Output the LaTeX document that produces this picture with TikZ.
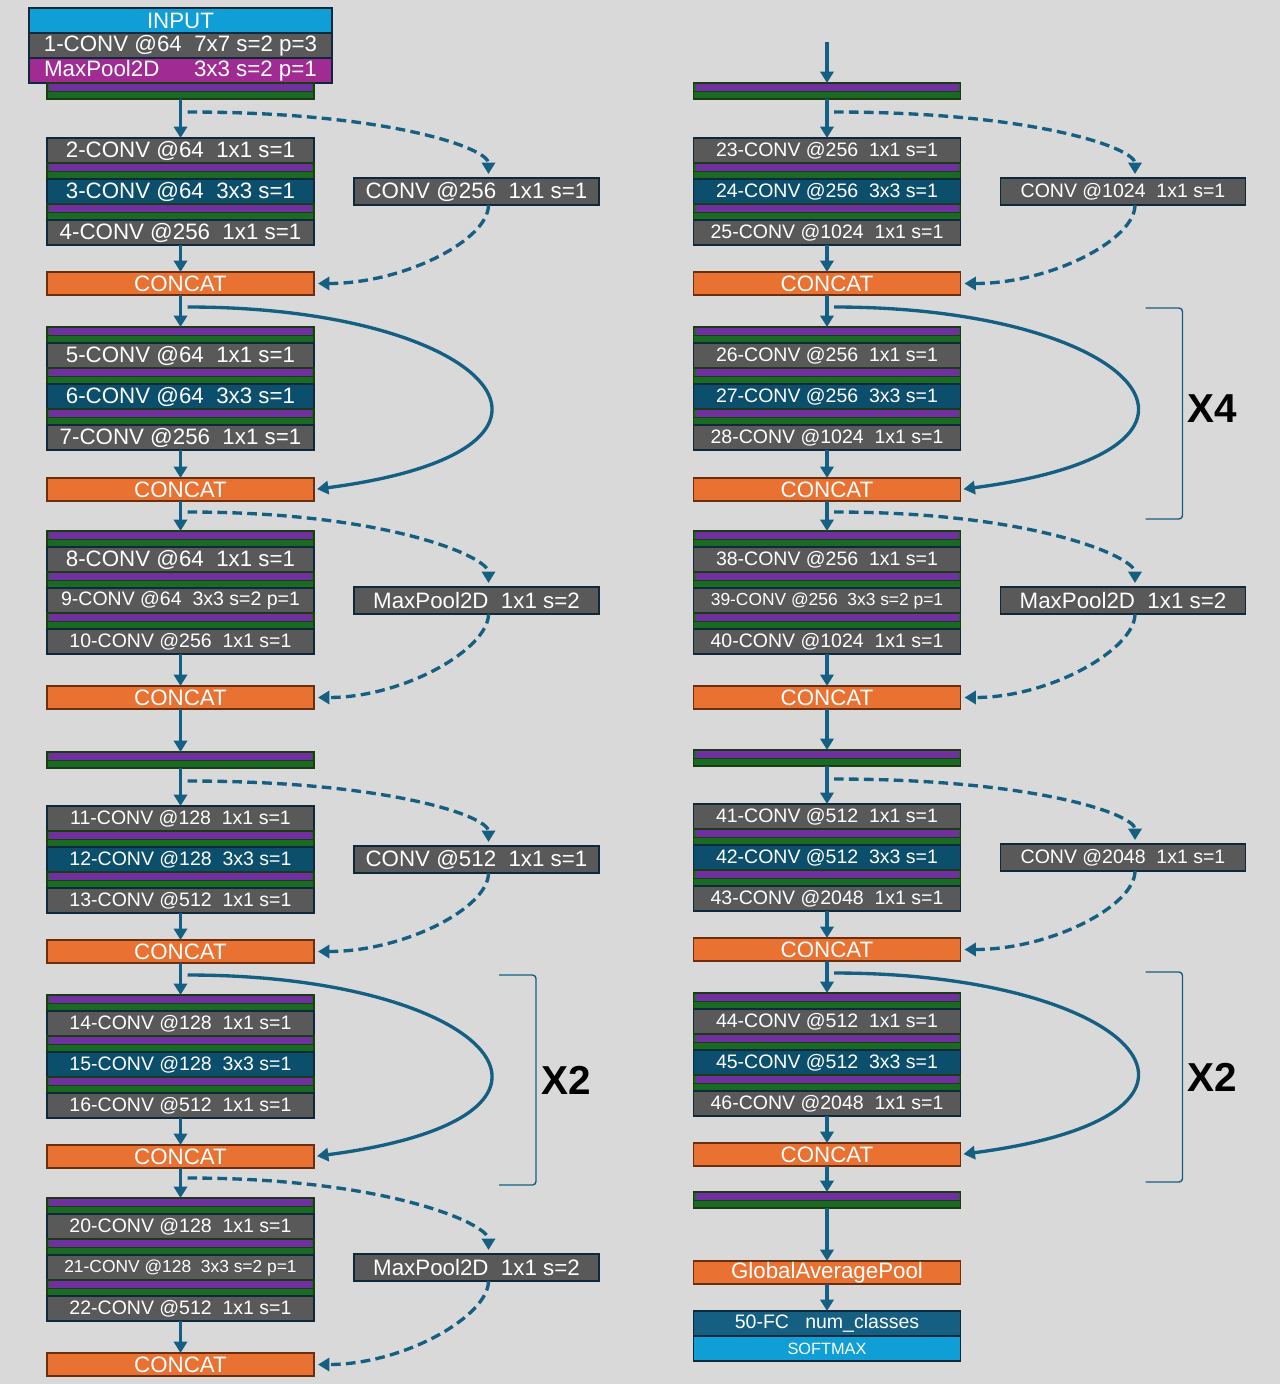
\documentclass[tikz,border=0pt]{standalone}
\usepackage{fontspec}
\setmainfont{Liberation Sans}
\usepackage{xcolor}
\usepackage{tikz}
\usetikzlibrary{positioning,arrows.meta}

\definecolor{bggray}{HTML}{D9D9D9}
\definecolor{convgray}{HTML}{595959}
\definecolor{convteal}{HTML}{0B4F6C}
\definecolor{rowline}{HTML}{10293A}
\definecolor{bnpurple}{HTML}{7030A0}
\definecolor{actgreen}{HTML}{196B24}
\definecolor{stripeline}{HTML}{1C3A14}
\definecolor{poolmag}{HTML}{A02B93}
\definecolor{inputblue}{HTML}{0F9ED5}
\definecolor{catorange}{HTML}{E97132}
\definecolor{catline}{HTML}{6B2E0E}
\definecolor{flowblue}{HTML}{156082}

\newcommand\fA{\fontsize{12.7}{15}\selectfont}
\newcommand\fB{\fontsize{11.1}{13}\selectfont}
\newcommand\fC{\fontsize{9.9}{12}\selectfont}
\newcommand\fD{\fontsize{9.3}{11}\selectfont}
\newcommand\fX{\fontsize{23}{26}\selectfont\bfseries}

\tikzstyle{convrow}=[rectangle, draw=rowline, fill=convgray, text=white, line width=0.9pt,
        minimum width=5.34cm, minimum height=0.5cm, inner sep=0pt, outer sep=0pt, font=\fB]
\tikzstyle{convmid}=[convrow, fill=convteal]
\tikzstyle{inrow}=[convrow, minimum width=6.06cm, font=\fA]
\tikzstyle{bnact}=[rectangle, draw=stripeline, fill=actgreen, line width=0.7pt,
        minimum width=5.34cm, minimum height=0.32cm, inner sep=0pt, outer sep=0pt,
        path picture={\fill[bnpurple] ([xshift=0.04cm,yshift=-0.025cm]path picture bounding box.north west) rectangle ([xshift=-0.04cm,yshift=0.005cm]path picture bounding box.east);
          \draw[stripeline, line width=0.6pt] ([yshift=-0.005cm]path picture bounding box.west) -- ([yshift=-0.005cm]path picture bounding box.east);}]
\tikzstyle{catbox}=[convrow, fill=catorange, draw=catline, minimum height=0.46cm, font=\fA]
\tikzstyle{sidebox}=[convrow, minimum width=4.9cm, minimum height=0.54cm]
\tikzstyle{flowarrow}=[draw=flowblue, line width=1.9pt, -{Triangle[width=7.5pt,length=6.5pt]}]
\tikzstyle{skiparrow}=[flowarrow, dash pattern=on 5.5pt off 3pt, shorten >=0.08cm]
\tikzstyle{resarrow}=[flowarrow, shorten >=0.06cm]
\tikzstyle{repbracket}=[draw=flowblue, line width=0.8pt, rounded corners=2pt]
\tikzstyle{replabel}=[font=\fX, text=black, inner sep=0pt]

\begin{document}
\begin{tikzpicture}[node distance=0cm]
        \fill[bggray] (0,0) rectangle (25.6,-27.68);
        \useasboundingbox (0,0) rectangle (25.6,-27.68);

        % left column
        \node (in) [inrow, fill=inputblue] at (3.61,-0.41) {INPUT};
        \node (c1) [inrow, below=of in] {1-CONV @64~ 7x7 s=2 p=3};
        \node (pool1) [inrow, fill=poolmag, below=of c1] {MaxPool2D\hspace{1.55em}3x3 s=2 p=1};
        \node (s1) [bnact, below=of pool1] {};

        \node (c2) [convrow, font=\fA, below=0.78cm of s1] {2-CONV @64~ 1x1 s=1};
        \node (b3) [bnact, below=of c2] {};
        \node (c3) [convmid, font=\fA, below=of b3] {3-CONV @64~ 3x3 s=1};
        \node (b4) [bnact, below=of c3] {};
        \node (c4) [convrow, font=\fA, below=of b4] {4-CONV @256~ 1x1 s=1};
        \node (p1) [sidebox, font=\fA, right=0.8cm of c3] {CONV @256~ 1x1 s=1};
        \node (cat1) [catbox, below=0.54cm of c4] {CONCAT};

        \node (b5) [bnact, below=0.64cm of cat1] {};
        \node (c5) [convrow, font=\fA, below=of b5] {5-CONV @64~ 1x1 s=1};
        \node (b6) [bnact, below=of c5] {};
        \node (c6) [convmid, font=\fA, below=of b6] {6-CONV @64~ 3x3 s=1};
        \node (b7) [bnact, below=of c6] {};
        \node (c7) [convrow, font=\fA, below=of b7] {7-CONV @256~ 1x1 s=1};
        \node (cat2) [catbox, below=0.56cm of c7] {CONCAT};

        \node (b8) [bnact, below=0.6cm of cat2] {};
        \node (c8) [convrow, font=\fA, below=of b8] {8-CONV @64~ 1x1 s=1};
        \node (b9) [bnact, below=of c8] {};
        \node (c9) [convrow, below=of b9] {9-CONV @64~ 3x3 s=2 p=1};
        \node (b10) [bnact, below=of c9] {};
        \node (c10) [convrow, below=of b10] {10-CONV @256~ 1x1 s=1};
        \node (p2) [sidebox, font=\fA, right=0.8cm of c9] {MaxPool2D~ 1x1 s=2};
        \node (cat3) [catbox, below=0.64cm of c10] {CONCAT};
        \node (s2) [bnact, below=0.86cm of cat3] {};

        \node (c11) [convrow, below=0.76cm of s2] {11-CONV @128~ 1x1 s=1};
        \node (b12) [bnact, below=of c11] {};
        \node (c12) [convmid, below=of b12] {12-CONV @128~ 3x3 s=1};
        \node (b13) [bnact, below=of c12] {};
        \node (c13) [convrow, below=of b13] {13-CONV @512~ 1x1 s=1};
        \node (p3) [sidebox, font=\fA, right=0.8cm of c12] {CONV @512~ 1x1 s=1};
        \node (cat4) [catbox, below=0.54cm of c13] {CONCAT};

        \node (b14) [bnact, below=0.64cm of cat4] {};
        \node (c14) [convrow, below=of b14] {14-CONV @128~ 1x1 s=1};
        \node (b15) [bnact, below=of c14] {};
        \node (c15) [convmid, below=of b15] {15-CONV @128~ 3x3 s=1};
        \node (b16) [bnact, below=of c15] {};
        \node (c16) [convrow, below=of b16] {16-CONV @512~ 1x1 s=1};
        \node (cat5) [catbox, below=0.54cm of c16] {CONCAT};

        \node (b20) [bnact, below=0.6cm of cat5] {};
        \node (c20) [convrow, below=of b20] {20-CONV @128~ 1x1 s=1};
        \node (b21) [bnact, below=of c20] {};
        \node (c21) [convrow, font=\fC, below=of b21] {21-CONV @128~ 3x3 s=2 p=1};
        \node (b22) [bnact, below=of c21] {};
        \node (c22) [convrow, below=of b22] {22-CONV @512~ 1x1 s=1};
        \node (p4) [sidebox, font=\fA, right=0.8cm of c21] {MaxPool2D~ 1x1 s=2};
        \node (cat6) [catbox, below=0.64cm of c22] {CONCAT};

        % right column
        \coordinate (rtop) at (16.54,-0.84);
        \node (s3) [bnact] at (16.54,-1.82) {};

        \node (c23) [convrow, below=0.78cm of s3] {23-CONV @256~ 1x1 s=1};
        \node (b24) [bnact, below=of c23] {};
        \node (c24) [convmid, below=of b24] {24-CONV @256~ 3x3 s=1};
        \node (b25) [bnact, below=of c24] {};
        \node (c25) [convrow, below=of b25] {25-CONV @1024~ 1x1 s=1};
        \node (p5) [sidebox, right=0.8cm of c24] {CONV @1024~ 1x1 s=1};
        \node (cat7) [catbox, below=0.54cm of c25] {CONCAT};

        \node (b26) [bnact, below=0.64cm of cat7] {};
        \node (c26) [convrow, below=of b26] {26-CONV @256~ 1x1 s=1};
        \node (b27) [bnact, below=of c26] {};
        \node (c27) [convmid, below=of b27] {27-CONV @256~ 3x3 s=1};
        \node (b28) [bnact, below=of c27] {};
        \node (c28) [convrow, below=of b28] {28-CONV @1024~ 1x1 s=1};
        \node (cat8) [catbox, below=0.56cm of c28] {CONCAT};

        \node (b38) [bnact, below=0.6cm of cat8] {};
        \node (c38) [convrow, below=of b38] {38-CONV @256~ 1x1 s=1};
        \node (b39) [bnact, below=of c38] {};
        \node (c39) [convrow, font=\fC, below=of b39] {39-CONV @256~ 3x3 s=2 p=1};
        \node (b40) [bnact, below=of c39] {};
        \node (c40) [convrow, below=of b40] {40-CONV @1024~ 1x1 s=1};
        \node (p6) [sidebox, font=\fA, right=0.8cm of c39] {MaxPool2D~ 1x1 s=2};
        \node (cat9) [catbox, below=0.64cm of c40] {CONCAT};
        \node (s4) [bnact, below=0.82cm of cat9] {};

        \node (c41) [convrow, below=0.76cm of s4] {41-CONV @512~ 1x1 s=1};
        \node (b42) [bnact, below=of c41] {};
        \node (c42) [convmid, below=of b42] {42-CONV @512~ 3x3 s=1};
        \node (b43) [bnact, below=of c42] {};
        \node (c43) [convrow, below=of b43] {43-CONV @2048~ 1x1 s=1};
        \node (p7) [sidebox, right=0.8cm of c42] {CONV @2048~ 1x1 s=1};
        \node (cat10) [catbox, below=0.54cm of c43] {CONCAT};

        \node (b44) [bnact, below=0.64cm of cat10] {};
        \node (c44) [convrow, below=of b44] {44-CONV @512~ 1x1 s=1};
        \node (b45) [bnact, below=of c44] {};
        \node (c45) [convmid, below=of b45] {45-CONV @512~ 3x3 s=1};
        \node (b46) [bnact, below=of c45] {};
        \node (c46) [convrow, below=of b46] {46-CONV @2048~ 1x1 s=1};
        \node (cat11) [catbox, below=0.54cm of c46] {CONCAT};
        \node (s5) [bnact, below=0.52cm of cat11] {};

        \node (gap) [catbox, below=1.06cm of s5] {GlobalAveragePool};
        \node (fc) [convrow, fill=flowblue, below=0.54cm of gap] {50-FC~~ num\_classes};
        \node (sm) [convrow, fill=inputblue, font=\fD, below=of fc] {SOFTMAX};

        % main flow
        \draw[flowarrow] (s1) -- (c2);
        \draw[flowarrow] (c4) -- (cat1);
        \draw[flowarrow] (cat1) -- (b5);
        \draw[flowarrow] (c7) -- (cat2);
        \draw[flowarrow] (cat2) -- (b8);
        \draw[flowarrow] (c10) -- (cat3);
        \draw[flowarrow] (cat3) -- (s2);
        \draw[flowarrow] (s2) -- (c11);
        \draw[flowarrow] (c13) -- (cat4);
        \draw[flowarrow] (cat4) -- (b14);
        \draw[flowarrow] (c16) -- (cat5);
        \draw[flowarrow] (cat5) -- (b20);
        \draw[flowarrow] (c22) -- (cat6);
        \draw[flowarrow] (rtop) -- (s3);
        \draw[flowarrow] (s3) -- (c23);
        \draw[flowarrow] (c25) -- (cat7);
        \draw[flowarrow] (cat7) -- (b26);
        \draw[flowarrow] (c28) -- (cat8);
        \draw[flowarrow] (cat8) -- (b38);
        \draw[flowarrow] (c40) -- (cat9);
        \draw[flowarrow] (cat9) -- (s4);
        \draw[flowarrow] (s4) -- (c41);
        \draw[flowarrow] (c43) -- (cat10);
        \draw[flowarrow] (cat10) -- (b44);
        \draw[flowarrow] (c46) -- (cat11);
        \draw[flowarrow] (cat11) -- (s5);
        \draw[flowarrow] (s5) -- (gap);
        \draw[flowarrow] (gap) -- (fc);

        % shortcut branches
        \coordinate (t1) at ([xshift=0.14cm,yshift=-0.26cm]s1.south);
        \draw[skiparrow] (t1) .. controls +(4cm,0) and +(0,0.6cm) .. ([xshift=0.24cm]p1.north);
        \draw[skiparrow] ([xshift=0.24cm]p1.south) .. controls +(0,-0.7cm) and +(1.8cm,0) .. (cat1.east);
        \coordinate (t2) at ([xshift=0.14cm,yshift=-0.22cm]cat2.south);
        \draw[skiparrow] (t2) .. controls +(4cm,0) and +(0,0.6cm) .. ([xshift=0.24cm]p2.north);
        \draw[skiparrow] ([xshift=0.24cm]p2.south) .. controls +(0,-0.7cm) and +(1.8cm,0) .. (cat3.east);
        \coordinate (t3) at ([xshift=0.14cm,yshift=-0.26cm]s2.south);
        \draw[skiparrow] (t3) .. controls +(4cm,0) and +(0,0.6cm) .. ([xshift=0.24cm]p3.north);
        \draw[skiparrow] ([xshift=0.24cm]p3.south) .. controls +(0,-0.7cm) and +(1.8cm,0) .. (cat4.east);
        \coordinate (t4) at ([xshift=0.14cm,yshift=-0.2cm]cat5.south);
        \draw[skiparrow] (t4) .. controls +(4cm,0) and +(0,0.6cm) .. ([xshift=0.24cm]p4.north);
        \draw[skiparrow] ([xshift=0.24cm]p4.south) .. controls +(0,-0.7cm) and +(1.8cm,0) .. (cat6.east);
        \coordinate (t5) at ([xshift=0.14cm,yshift=-0.26cm]s3.south);
        \draw[skiparrow] (t5) .. controls +(4cm,0) and +(0,0.6cm) .. ([xshift=0.24cm]p5.north);
        \draw[skiparrow] ([xshift=0.24cm]p5.south) .. controls +(0,-0.7cm) and +(1.8cm,0) .. (cat7.east);
        \coordinate (t6) at ([xshift=0.14cm,yshift=-0.22cm]cat8.south);
        \draw[skiparrow] (t6) .. controls +(4cm,0) and +(0,0.6cm) .. ([xshift=0.24cm]p6.north);
        \draw[skiparrow] ([xshift=0.24cm]p6.south) .. controls +(0,-0.7cm) and +(1.8cm,0) .. (cat9.east);
        \coordinate (t7) at ([xshift=0.14cm,yshift=-0.26cm]s4.south);
        \draw[skiparrow] (t7) .. controls +(4cm,0) and +(0,0.6cm) .. ([xshift=0.24cm]p7.north);
        \draw[skiparrow] ([xshift=0.24cm]p7.south) .. controls +(0,-0.7cm) and +(1.8cm,0) .. (cat10.east);

        % identity branches
        \coordinate (u1) at ([xshift=0.14cm,yshift=-0.24cm]cat1.south);
        \draw[resarrow] (u1) .. controls +(6.1cm,0) and +(6.1cm,0.8cm) .. (cat2.east);
        \coordinate (u2) at ([xshift=0.14cm,yshift=-0.24cm]cat4.south);
        \draw[resarrow] (u2) .. controls +(6.1cm,0) and +(6.1cm,0.8cm) .. (cat5.east);
        \coordinate (u3) at ([xshift=0.14cm,yshift=-0.24cm]cat7.south);
        \draw[resarrow] (u3) .. controls +(6.1cm,0) and +(6.1cm,0.8cm) .. (cat8.east);
        \coordinate (u4) at ([xshift=0.14cm,yshift=-0.24cm]cat10.south);
        \draw[resarrow] (u4) .. controls +(6.1cm,0) and +(6.1cm,0.8cm) .. (cat11.east);

        % repeat brackets
        \coordinate (k1a) at ([xshift=4.44cm,yshift=-0.24cm]cat4.south east);
        \coordinate (k1b) at ([xshift=4.44cm,yshift=-0.34cm]cat5.south east);
        \draw[repbracket] ([xshift=-0.74cm]k1a) -- (k1a) -- (k1b) -- ([xshift=-0.74cm]k1b);
        \path (k1a) -- node (x2a) [replabel, right=0.1cm] {X2} (k1b);
        \coordinate (k2a) at ([xshift=4.44cm,yshift=-0.26cm]cat7.south east);
        \coordinate (k2b) at ([xshift=4.44cm,yshift=-0.36cm]cat8.south east);
        \draw[repbracket] ([xshift=-0.74cm]k2a) -- (k2a) -- (k2b) -- ([xshift=-0.74cm]k2b);
        \path (k2a) -- node (x4) [replabel, right=0.1cm, yshift=0.1cm] {X4} (k2b);
        \coordinate (k3a) at ([xshift=4.44cm,yshift=-0.22cm]cat10.south east);
        \coordinate (k3b) at ([xshift=4.44cm,yshift=-0.32cm]cat11.south east);
        \draw[repbracket] ([xshift=-0.74cm]k3a) -- (k3a) -- (k3b) -- ([xshift=-0.74cm]k3b);
        \path (k3a) -- node (x2b) [replabel, right=0.1cm] {X2} (k3b);
\end{tikzpicture}
\end{document}
